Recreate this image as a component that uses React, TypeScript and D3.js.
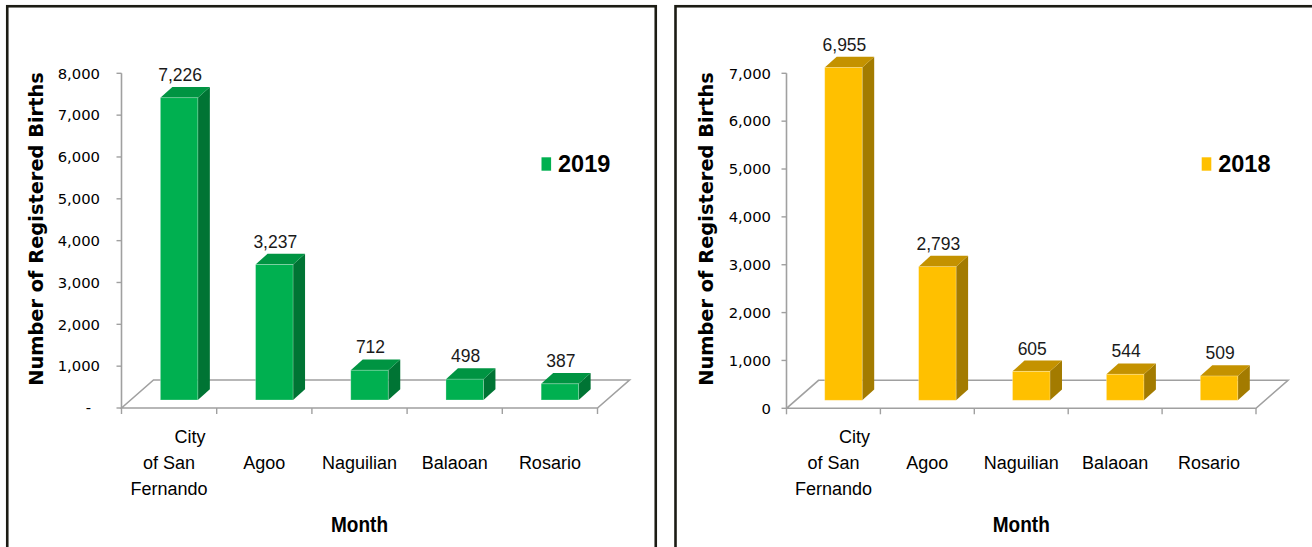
import React, { useEffect } from "react";
import * as d3 from "d3";

// ---------- data ----------
const categories = ["City of San Fernando", "Agoo", "Naguilian", "Balaoan", "Rosario"];
const categoryLines: string[][] = [["City", "of San", "Fernando"], ["Agoo"], ["Naguilian"], ["Balaoan"], ["Rosario"]];
const births2019 = [7226, 3237, 712, 498, 387];
const births2018 = [6955, 2793, 605, 544, 509];
const ticks2019 = [0, 1000, 2000, 3000, 4000, 5000, 6000, 7000, 8000];
const ticks2018 = [0, 1000, 2000, 3000, 4000, 5000, 6000, 7000];
const yTitle = "Number of Registered Births";
const xTitle = "Month";

const W = 1312;
const H = 547;

type PanelCfg = {
  key: string;
  series: string;
  values: number[];
  ticks: number[];
  zeroLabel: string;
  zeroDx: number;
  borderX: number;
  borderW: number;
  axisX0: number;
  axisX1: number;
  y0: number;
  yTop: number;
  labelRight: number;
  titleX: number;
  legendX: number;
  front: string;
  top: string;
  side: string;
};

const panels: PanelCfg[] = [
  {
    key: "p2019",
    series: "2019",
    values: births2019,
    ticks: ticks2019,
    zeroLabel: "-",
    zeroDx: -9,
    borderX: 7.25,
    borderW: 648.5,
    axisX0: 121.5,
    axisX1: 597.5,
    y0: 408,
    yTop: 73.3,
    labelRight: 100,
    titleX: 43,
    legendX: 541.5,
    front: "#00b050",
    top: "#009442",
    side: "#007434",
  },
  {
    key: "p2018",
    series: "2018",
    values: births2018,
    ticks: ticks2018,
    zeroLabel: "0",
    zeroDx: 0,
    borderX: 675.5,
    borderW: 700,
    axisX0: 786.5,
    axisX1: 1256,
    y0: 408.3,
    yTop: 73.3,
    labelRight: 771,
    titleX: 713,
    legendX: 1201.7,
    front: "#ffc000",
    top: "#c49200",
    side: "#a37b00",
  },
];

const FLOOR_DX = 32;
const FLOOR_DY = 28;
const BAR_OFF_X = 10;
const BAR_OFF_Y = 8;
const BAR_W = 37.5;
const BAR_DX = 12;
const BAR_DY = 10.8;

const fmt = d3.format(",");

function Panel({ cfg }: { cfg: PanelCfg }) {
  const maxV = cfg.ticks[cfg.ticks.length - 1];
  const y = d3.scaleLinear().domain([0, maxV]).range([cfg.y0, cfg.yTop]);
  const x = d3.scaleBand().domain(categories).range([cfg.axisX0, cfg.axisX1]).padding(0);
  const bw = x.bandwidth();
  const axisColor = "#a0a0a0";
  const floor = [
    [cfg.axisX0, cfg.y0],
    [cfg.axisX0 + FLOOR_DX, cfg.y0 - FLOOR_DY],
    [cfg.axisX1 + FLOOR_DX, cfg.y0 - FLOOR_DY],
    [cfg.axisX1, cfg.y0],
  ];
  const line = d3.line();
  const midY = 229;
  const boundaries = categories.map((c) => x(c) as number).concat([cfg.axisX1]);
  return (
    <g>
      <rect x={cfg.borderX} y={6.25} width={cfg.borderW} height={600} fill="#ffffff" stroke="#1c1c14" strokeWidth={2.6} />
      {/* floor */}
      <path d={line(floor as [number, number][]) + "Z"} fill="none" stroke={axisColor} strokeWidth={1.6} />
      {/* y axis */}
      <line x1={cfg.axisX0} x2={cfg.axisX0} y1={cfg.y0} y2={cfg.yTop} stroke={axisColor} strokeWidth={1.6} />
      {cfg.ticks.map((t) => (
        <g key={t}>
          <line x1={cfg.axisX0 - 5} x2={cfg.axisX0} y1={y(t)} y2={y(t)} stroke={axisColor} strokeWidth={1.4} />
          <text
            x={cfg.labelRight + (t === 0 ? cfg.zeroDx : 0)}
            y={y(t)}
            dy="0.36em"
            textAnchor="end"
            fontFamily="DejaVu Sans, Verdana, sans-serif"
            fontSize={14.8}
            fill="#000"
          >
            {t === 0 ? cfg.zeroLabel : fmt(t)}
          </text>
        </g>
      ))}
      {/* x ticks */}
      {boundaries.map((bx, i) => (
        <line key={i} x1={bx} x2={bx} y1={cfg.y0} y2={cfg.y0 + 6} stroke={axisColor} strokeWidth={1.4} />
      ))}
      {/* bars */}
      {categories.map((c, i) => {
        const v = cfg.values[i];
        const cx = (x(c) as number) + bw / 2 + BAR_OFF_X;
        const fx = cx - BAR_W / 2;
        const fb = y(0) - BAR_OFF_Y;
        const fy = y(v) - BAR_OFF_Y;
        const topPts = [
          [fx, fy],
          [fx + BAR_DX, fy - BAR_DY],
          [fx + BAR_W + BAR_DX, fy - BAR_DY],
          [fx + BAR_W, fy],
        ];
        const sidePts = [
          [fx + BAR_W, fy],
          [fx + BAR_W + BAR_DX, fy - BAR_DY],
          [fx + BAR_W + BAR_DX, fb - BAR_DY],
          [fx + BAR_W, fb],
        ];
        return (
          <g key={c}>
            <path d={line(sidePts as [number, number][]) + "Z"} fill={cfg.side} />
            <path d={line(topPts as [number, number][]) + "Z"} fill={cfg.top} />
            <rect x={fx} y={fy} width={BAR_W} height={fb - fy} fill={cfg.front} stroke="rgba(255,255,255,0.35)" strokeWidth={0.8} />
            <text
              x={cx + 1}
              y={fy - 16.8}
              textAnchor="middle"
              fontFamily="Liberation Sans, Arial, sans-serif"
              fontSize={17.5}
              fill="#1a1a1a"
            >
              {fmt(v)}
            </text>
          </g>
        );
      })}
      {/* category labels */}
      {categories.map((c, i) => {
        const lines = categoryLines[i];
        const cx = (x(c) as number) + bw / 2;
        const start = lines.length === 1 ? 1 : 0;
        return (
          <g key={"l" + c}>
            {lines.map((ln, j) => (
              <text
                key={j}
                x={cx + (lines.length > 1 && j === 0 ? 21 : 0)}
                y={cfg.y0 + 35 + (start + j) * 26}
                textAnchor="middle"
                fontFamily="Liberation Sans, Arial, sans-serif"
                fontSize={18}
                fill="#000"
              >
                {ln}
              </text>
            ))}
          </g>
        );
      })}
      {/* x title */}
      <text
        x={(cfg.axisX0 + cfg.axisX1) / 2}
        y={531.5}
        textAnchor="middle"
        fontFamily="Liberation Sans, Arial, sans-serif"
        fontWeight="bold"
        fontSize={22}
        textLength={57}
        lengthAdjust="spacingAndGlyphs"
        fill="#000"
      >
        {xTitle}
      </text>
      {/* y title */}
      <text
        transform={`translate(${cfg.titleX},${midY}) rotate(-90)`}
        textAnchor="middle"
        fontFamily="DejaVu Sans, Verdana, sans-serif"
        fontWeight="bold"
        fontSize={19.4}
        fill="#000"
      >
        {yTitle}
      </text>
      {/* legend */}
      <rect x={cfg.legendX} y={157.3} width={9.6} height={13.4} fill={cfg.front} />
      <text
        x={cfg.legendX + 16.5}
        y={172}
        fontFamily="Liberation Sans, Arial, sans-serif"
        fontWeight="bold"
        fontSize={23.5}
        fill="#000"
      >
        {cfg.series}
      </text>
    </g>
  );
}

export default function App() {
  useEffect(() => {
    document.body.style.margin = "0";
  }, []);
  return (
    <svg width={W} height={H} style={{ display: "block", background: "#fff" }}>
      <rect x={0} y={0} width={W} height={H} fill="#ffffff" />
      {panels.map((p) => (
        <Panel key={p.key} cfg={p} />
      ))}
    </svg>
  );
}
